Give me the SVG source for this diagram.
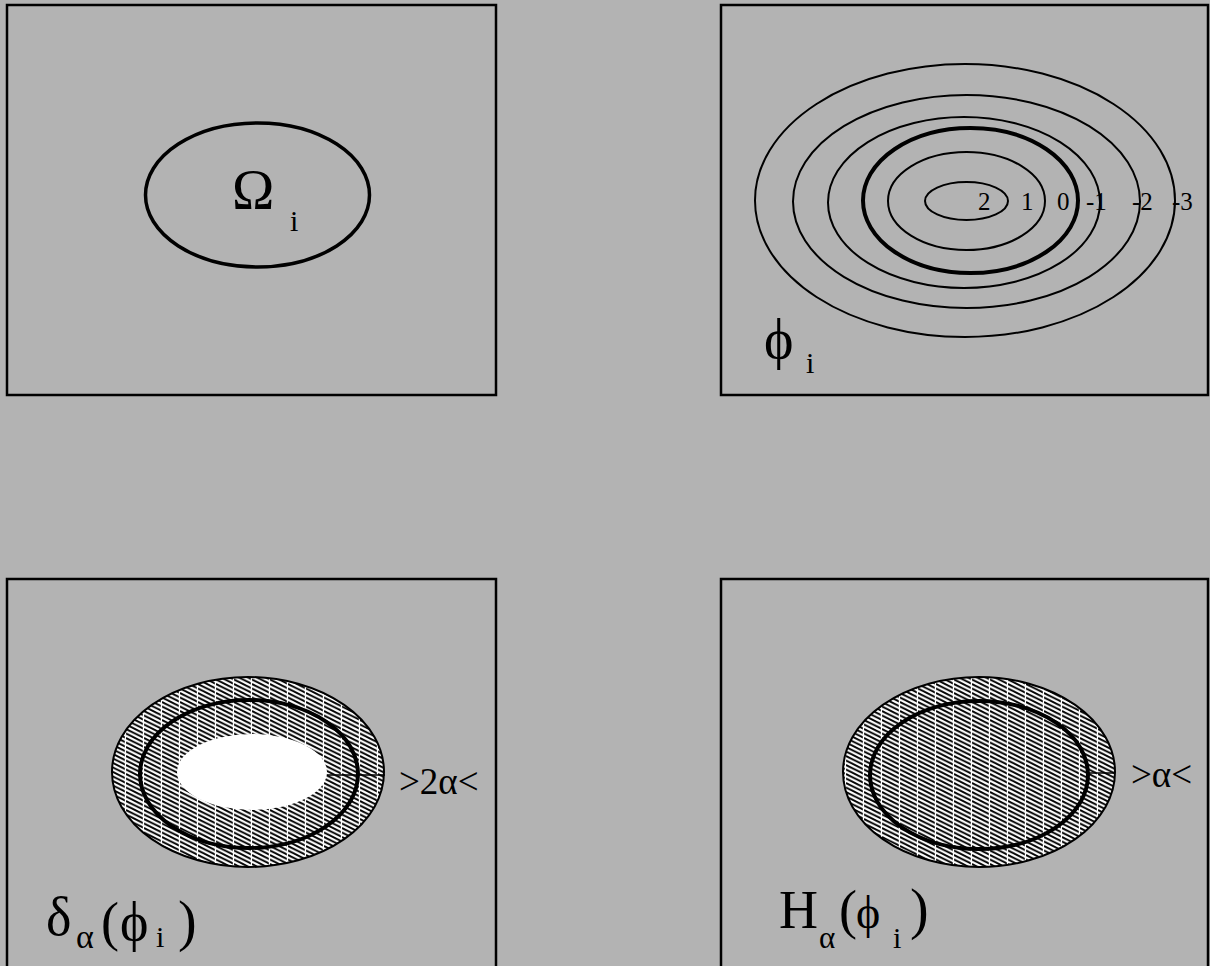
<svg xmlns="http://www.w3.org/2000/svg" width="1210" height="966" viewBox="0 0 1210 966">
  <defs>
    <pattern id="hatch" patternUnits="userSpaceOnUse" x="0" y="0" width="18" height="4.5">
      <rect width="18" height="4.5" fill="#ffffff"/>
      <g stroke="#000" stroke-width="1.9">
        <line x1="0" y1="-9" x2="18" y2="0"/>
        <line x1="0" y1="-4.5" x2="18" y2="4.5"/>
        <line x1="0" y1="0" x2="18" y2="9"/>
        <line x1="0" y1="4.5" x2="18" y2="13.5"/>
      </g>
      <rect x="16.8" y="0" width="1.2" height="4.5" fill="#ffffff"/>
    </pattern>
  </defs>
  <style>
    .panel { fill: #b3b3b3; stroke: #000; stroke-width: 2.5; }
    .thin { fill: none; stroke: #000; stroke-width: 2; }
    .thick { fill: none; stroke: #000; stroke-width: 4; }
    .hatched { fill: url(#hatch); stroke: #000; stroke-width: 2; }
    .t { font-family: "Liberation Serif", "DejaVu Serif", serif; fill: #000; }
  </style>
  <rect x="0" y="0" width="1210" height="966" fill="#b3b3b3"/>

  <g id="panel-omega">
    <rect class="panel" x="7" y="5" width="489" height="390"/>
    <ellipse class="thick" cx="257.5" cy="195" rx="112" ry="72" style="stroke-width:3.5"/>
    <text class="t" x="232" y="209" font-size="57">Ω</text>
    <text class="t" x="290" y="231" font-size="30">i</text>
  </g>

  <g id="panel-phi">
    <rect class="panel" x="721" y="5" width="487" height="390"/>
    <ellipse class="thin" cx="965" cy="200.5" rx="210" ry="136.5"/>
    <ellipse class="thin" cx="966.5" cy="201.5" rx="173.5" ry="106.5"/>
    <ellipse class="thin" cx="964" cy="202.5" rx="136" ry="85.5"/>
    <ellipse class="thick" cx="970.5" cy="200.5" rx="107.5" ry="72.5"/>
    <ellipse class="thin" cx="966.5" cy="201" rx="78.5" ry="49"/>
    <ellipse class="thin" cx="966.5" cy="201" rx="41.5" ry="19"/>
    <g class="t" font-size="25">
      <text x="978" y="210">2</text>
      <text x="1021" y="210">1</text>
      <text x="1057" y="210">0</text>
      <text x="1086" y="210">-1</text>
      <text x="1132" y="210">-2</text>
      <text x="1172" y="210">-3</text>
    </g>
    <text class="t" x="764" y="358" font-size="56">ϕ</text>
    <text class="t" x="806" y="373" font-size="30">i</text>
  </g>

  <g id="panel-delta">
    <rect class="panel" x="7" y="579" width="489" height="400"/>
    <ellipse class="hatched" cx="248" cy="772" rx="136" ry="95"/>
    <ellipse cx="252" cy="772" rx="75" ry="38" fill="#ffffff"/>
    <ellipse class="thick" cx="249" cy="774" rx="109" ry="74"/>
    <line x1="327" y1="775" x2="385" y2="775" stroke="#000" stroke-width="1.5"/>
    <text class="t" x="399" y="794" font-size="37">&gt;2α&lt;</text>
    <text class="t" x="46" y="935" font-size="54">δ</text>
    <text class="t" x="76" y="948" font-size="34">α</text>
    <text class="t" x="101" y="940" font-size="54">(</text>
    <text class="t" x="120" y="940" font-size="54">ϕ</text>
    <text class="t" x="156" y="947" font-size="30">i</text>
    <text class="t" x="178" y="940" font-size="56">)</text>
  </g>

  <g id="panel-heaviside">
    <rect class="panel" x="721" y="579" width="487" height="400"/>
    <ellipse class="hatched" cx="979" cy="772" rx="136" ry="95"/>
    <ellipse class="thick" cx="979" cy="775" rx="109" ry="74"/>
    <line x1="1088" y1="773" x2="1115" y2="773" stroke="#000" stroke-width="1.5"/>
    <text class="t" x="1131" y="787" font-size="37">&gt;α&lt;</text>
    <text class="t" x="779" y="928" font-size="54">H</text>
    <text class="t" x="819" y="948" font-size="31">α</text>
    <text class="t" x="839" y="928" font-size="54">(</text>
    <text class="t" x="856" y="928" font-size="46">ϕ</text>
    <text class="t" x="893" y="948" font-size="30">i</text>
    <text class="t" x="910" y="928" font-size="56">)</text>
  </g>

  <g id="connectors"></g>
</svg>
